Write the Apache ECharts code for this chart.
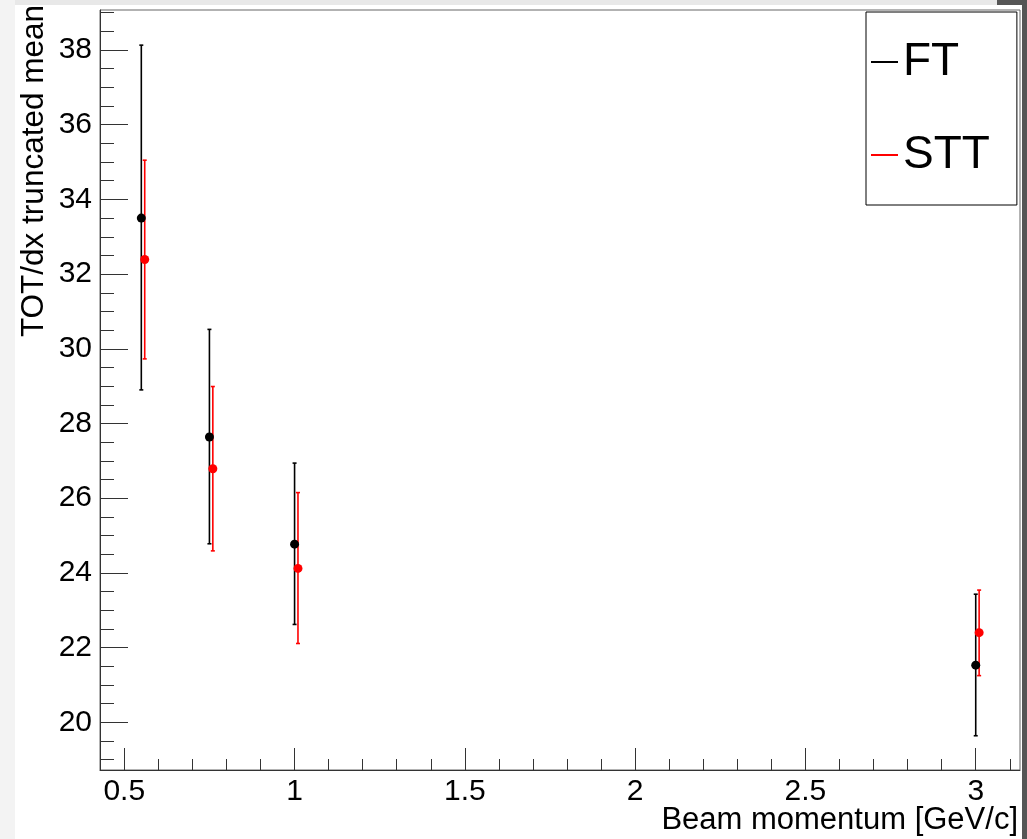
<!DOCTYPE html>
<html>
<head>
<meta charset="utf-8">
<script src="https://cdn.jsdelivr.net/npm/echarts@6/dist/echarts.min.js"></script>
<style>
html,body{margin:0;padding:0;background:#f3f3f3;width:1027px;height:839px;overflow:hidden;}
#canvasBg{position:absolute;left:15px;top:5px;width:1007px;height:834px;background:#fff;}
#topStrip{position:absolute;left:15px;top:0;width:982px;height:5px;background:#e8e8e8;}
#darkTop{position:absolute;left:997px;top:0;width:30px;height:5px;background:#555;}
#darkRight{position:absolute;left:1022px;top:0;width:5px;height:839px;background:#555;}
#chart{position:absolute;left:0;top:0;width:1027px;height:839px;}
</style>
</head>
<body>
<div id="canvasBg"></div>
<div id="topStrip"></div>
<div id="darkTop"></div>
<div id="darkRight"></div>
<div id="chart"></div>
<script>
// ---- data ----
const seriesNames = ['FT', 'STT'];
const ftMomentum = [0.55, 0.75, 1.0, 3.0];
const ftMean = [33.50, 27.64, 24.77, 21.53];
const ftLow = [28.90, 24.78, 22.62, 19.64];
const ftHigh = [38.13, 30.52, 26.94, 23.43];
const sttMomentum = [0.56, 0.76, 1.01, 3.01];
const sttMean = [32.39, 26.79, 24.12, 22.40];
const sttLow = [29.73, 24.59, 22.11, 21.25];
const sttHigh = [35.05, 28.99, 26.15, 23.54];

const xMajorTicks = [0.5, 1, 1.5, 2, 2.5, 3];
const xTickLabels = ['0.5', '1', '1.5', '2', '2.5', '3'];
const xMinorTicks = [0.6, 0.7, 0.8, 0.9, 1.1, 1.2, 1.3, 1.4, 1.6, 1.7, 1.8, 1.9,
  2.1, 2.2, 2.3, 2.4, 2.6, 2.7, 2.8, 2.9, 3.1];
const yMajorTicks = [20, 22, 24, 26, 28, 30, 32, 34, 36, 38];
const yTickLabels = ['20', '22', '24', '26', '28', '30', '32', '34', '36', '38'];
const yMinorTicks = [19, 19.5, 20.5, 21, 21.5, 22.5, 23, 23.5, 24.5, 25, 25.5,
  26.5, 27, 27.5, 28.5, 29, 29.5, 30.5, 31, 31.5, 32.5, 33, 33.5, 34.5, 35, 35.5,
  36.5, 37, 37.5, 38.5, 39];
const xRange = [0.4287, 3.130];
const yRange = [18.723, 39.071];
const xTitle = 'Beam momentum [GeV/c]';
const yTitle = 'TOT/dx truncated mean';

// ---- chart ----
const FONT = '"Liberation Sans", Arial, Helvetica, sans-serif';
const chart = echarts.init(document.getElementById('chart'), null, {renderer: 'canvas'});

function pts(xs, ys) { return xs.map((x, i) => [x, ys[i]]); }
function errs(xs, lo, hi) { return xs.map((x, i) => [x, lo[i], hi[i]]); }

function errRender(color) {
  return function (params, api) {
    const x = api.value(0);
    const a = api.coord([x, api.value(1)]);
    const b = api.coord([x, api.value(2)]);
    const c = 2;
    const st = {stroke: color, lineWidth: 1.6};
    return {
      type: 'group',
      children: [
        {type: 'line', shape: {x1: a[0], y1: a[1], x2: b[0], y2: b[1]}, style: st},
        {type: 'line', shape: {x1: a[0] - c, y1: a[1], x2: a[0] + c, y2: a[1]}, style: st},
        {type: 'line', shape: {x1: b[0] - c, y1: b[1], x2: b[0] + c, y2: b[1]}, style: st}
      ]
    };
  };
}

const tickColor = '#333';
const labelStyle = {fontSize: 30, color: '#000', fontFamily: FONT};

const option = {
  animation: false,
  backgroundColor: 'transparent',
  grid: {
    left: 100, top: 10, right: 7, bottom: 69,
    show: true, borderColor: '#666', borderWidth: 1, backgroundColor: '#fff',
    containLabel: false, outerBoundsMode: 'none'
  },
  legend: {
    data: [{name: seriesNames[0], icon: 'rect'}, {name: seriesNames[1], icon: 'rect'}],
    orient: 'vertical',
    left: 866, top: 12,
    itemWidth: 27, itemHeight: 2, itemGap: 47,
    padding: [27, 27, 27, 5],
    backgroundColor: '#fff', borderColor: '#000', borderWidth: 1, borderRadius: 0,
    selectedMode: false,
    textStyle: {fontSize: 46, lineHeight: 46, color: '#000', fontFamily: FONT}
  },
  xAxis: [
    {
      type: 'value', min: xRange[0], max: xRange[1], position: 'bottom',
      axisLine: {show: true, onZero: false, lineStyle: {color: tickColor, width: 1}},
      axisTick: {show: true, inside: true, length: 22, customValues: xMajorTicks, lineStyle: {color: tickColor}},
      axisLabel: Object.assign({show: true, margin: 7, customValues: xMajorTicks,
        formatter: v => xTickLabels[xMajorTicks.indexOf(v)] ?? String(v)}, labelStyle),
      splitLine: {show: false}
    },
    {
      type: 'value', min: xRange[0], max: xRange[1], position: 'bottom',
      axisLine: {show: false, onZero: false},
      axisTick: {show: true, inside: true, length: 11, customValues: xMinorTicks, lineStyle: {color: tickColor}},
      axisLabel: {show: false},
      splitLine: {show: false}
    }
  ],
  yAxis: [
    {
      type: 'value', min: yRange[0], max: yRange[1], position: 'left',
      axisLine: {show: true, onZero: false, lineStyle: {color: tickColor, width: 1}},
      axisTick: {show: true, inside: true, length: 28, customValues: yMajorTicks, lineStyle: {color: tickColor}},
      axisLabel: Object.assign({show: true, margin: 8, customValues: yMajorTicks,
        formatter: v => yTickLabels[yMajorTicks.indexOf(v)] ?? String(v)}, labelStyle),
      splitLine: {show: false}
    },
    {
      type: 'value', min: yRange[0], max: yRange[1], position: 'left',
      axisLine: {show: false, onZero: false},
      axisTick: {show: true, inside: true, length: 14, customValues: yMinorTicks, lineStyle: {color: tickColor}},
      axisLabel: {show: false},
      splitLine: {show: false}
    }
  ],
  graphic: [
    {
      type: 'text', x: 1018, y: 820, z: 10,
      style: {text: xTitle, font: '31px ' + FONT, fill: '#000', align: 'right', verticalAlign: 'middle',
        textAlign: 'right', textVerticalAlign: 'middle'}
    },
    {
      type: 'text', x: 34, y: 5, rotation: Math.PI / 2, z: 10,
      style: {text: yTitle, font: '31.5px ' + FONT, fill: '#000', align: 'right', verticalAlign: 'middle',
        textAlign: 'right', textVerticalAlign: 'middle'}
    }
  ],
  series: [
    {
      name: seriesNames[0] + ' err', type: 'custom', xAxisIndex: 0, yAxisIndex: 0,
      renderItem: errRender('#000'), encode: {x: 0, y: [1, 2]},
      data: errs(ftMomentum, ftLow, ftHigh), z: 2, silent: true
    },
    {
      name: seriesNames[1] + ' err', type: 'custom', xAxisIndex: 0, yAxisIndex: 0,
      renderItem: errRender('#ff0000'), encode: {x: 0, y: [1, 2]},
      data: errs(sttMomentum, sttLow, sttHigh), z: 2, silent: true
    },
    {
      name: seriesNames[0], type: 'scatter', xAxisIndex: 0, yAxisIndex: 0,
      symbol: 'circle', symbolSize: 9, itemStyle: {color: '#000', opacity: 1},
      data: pts(ftMomentum, ftMean), z: 3
    },
    {
      name: seriesNames[1], type: 'scatter', xAxisIndex: 0, yAxisIndex: 0,
      symbol: 'circle', symbolSize: 9, itemStyle: {color: '#ff0000', opacity: 1},
      data: pts(sttMomentum, sttMean), z: 3
    }
  ]
};
chart.setOption(option);
</script>
</body>
</html>
